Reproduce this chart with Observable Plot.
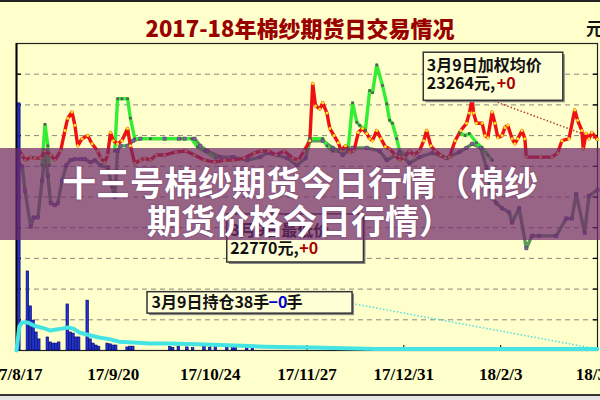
<!DOCTYPE html>
<html lang="zh">
<head>
<meta charset="utf-8">
<script src="https://cdn.jsdelivr.net/npm/d3@7"></script>
<script src="https://cdn.jsdelivr.net/npm/@observablehq/plot@0.6"></script>
<style>
html,body{margin:0;padding:0;background:#fff;}
#wrap{position:relative;width:600px;height:400px;overflow:hidden;background:#FFFFCC;font-family:"Noto Sans CJK SC","Noto Sans",sans-serif;}
#wrap svg.layer{position:absolute;left:0;top:0;}
#topline{position:absolute;left:0;top:0;width:600px;height:2px;background:#222;}
#title{position:absolute;left:0;top:13px;width:600px;text-align:center;font-size:22px;font-weight:900;color:#990000;line-height:28px;}
#unit{position:absolute;left:586px;top:15px;font-size:17px;font-weight:bold;color:#111;}
#bottomline{position:absolute;left:0;top:394px;width:600px;height:6px;background:#e4e4e4;border-top:2px solid #333;}
#banner{position:absolute;left:0;top:148px;width:600px;height:92px;box-sizing:border-box;padding-top:15px;background:rgba(112,42,108,0.72);color:#fff;text-align:center;font-size:34px;font-weight:bold;line-height:38px;text-shadow:0 0 2px rgba(60,0,60,.5);}
</style>
</head>
<body>
<div id="wrap">
  <div id="topline"></div>
  <div id="title">2017-18年棉纱期货日交易情况</div>
  <div id="unit">元</div>
</div>
<script>
// ---------- data (day offset from 2017-08-17, value) ----------
const avgSeries = [[1,23150],[2,23110],[3,23060],[5,23090],[6.5,23080],[8.5,23080],[10,23150],[12,23110],[13.5,23060],[15.5,23150],[17,23350],[18,23470],[19.5,23530],[20.5,23400],[21.5,23200],[23,23270],[25,23300],[26.5,23220],[28.5,23150],[29.5,23080],[31,23040],[32,23110],[33,23330],[34,23250],[35.5,23220],[37,23250],[39,23370],[40,23200],[41.5,23030],[43.5,23060],[45,23080],[47,23060],[49,23110],[52,23110],[56,23140],[59.5,23150],[62.5,23110],[66,23060],[69.5,23040],[73,23060],[76,23060],[80,23080],[83.5,23130],[86,23150],[88.5,23150],[91,23110],[94,23150],[97,23080],[99,23060],[101,23150],[103,23250],[104,23810],[105,23590],[106.5,23560],[107.5,23620],[109,23520],[110,23370],[111.5,23300],[113,23230],[114,23150],[115.5,23200],[117,23140],[118.5,23150],[120,23330],[121.5,23370],[123,23320],[124,23270],[125,23250],[126.5,23350],[128,23270],[129.5,23190],[131,23170],[133,23110],[134.5,23060],[136,23090],[138,23150],[139.5,23110],[141.5,23150],[143,23250],[144,23350],[145.5,23200],[147,23150],[149,23110],[150.5,23080],[152,23090],[154,23250],[156,23350],[158,23420],[159,23520],[160,23660],[160.5,23520],[161.5,23420],[163.5,23420],[164.5,23300],[165.5,23280],[167,23530],[168,23420],[169,23280],[170.5,23300],[171.5,23380],[172.5,23400],[174,23270],[175,23220],[176,23270],[177.5,23350],[178.5,23270],[179,23090],[184,23090],[188,23090],[190,23130],[191.5,23250],[194,23270],[196,23550],[197,23450],[198.5,23350],[199,23170],[200,23320],[201,23270],[202,23330],[204,23264]];

const highSeries = [[9,23010],[10,23410],[11,23200],[11.5,23010],[11.6,null],
  [34.5,23150],[35.5,23660],[37,23660],[39,23660],[40,23470],[41.5,23270],[47,23270],[52,23270],[57.5,23270],[61.5,23270],[63.5,23190],[66,23150],[70,23080],[70.1,null],
  [101.5,23150],[103,23270],[107.5,23270],[109,23200],[111,23150],[113.5,23150],[116.5,23180],[118,23620],[119.5,23430],[120.5,23400],[122.5,23350],[124,23740],[125,23720],[126.5,23990],[128.5,23790],[130,23610],[131,23450],[132,23420],[133.5,23270],[134.5,23150],[137,23110],[137.1,null],
  [155.5,23330],[157.5,23300],[159,23320],[161.5,23230],[163.5,23180],[165.5,23110],[167,23060]];

const lowSeries = [[1,23020],[2,23000],[3,22760],[5,22410],[6,22500],[7.5,22500],[9,22860],[10,23150],[11,22910],[12,22640],[13.5,22620],[14.5,22640],[16,22860],[17.5,23010],[19,23060],[20.5,23070],[22.5,23070],[24,23070],[26,23040],[27.5,23060],[29.5,23010],[32,22990],[33.5,22810],[34.5,22700],[35.5,23150],[36.5,23200],[39,23200],[41,23250],[43.5,23270],[52,23270],[57,23270],[59,23270],[62.5,23270],[64.5,23200],[67,23150],[71.5,23090],[76,23090],[81,23060],[85.5,23090],[88,23130],[91.5,23110],[95,23080],[98.5,23010],[101.5,23080],[103,23250],[107.5,23250],[111,23180],[113.5,23150],[114.5,23110],[118,23180],[123,23180],[127.5,23150],[130,23060],[134.5,23130],[138,23030],[141.5,23090],[146,23130],[151,23080],[155.5,23140],[158,23180],[160,23220],[163,23180],[165,22990],[167,22690],[168.5,22640],[170.5,22590],[173,22550],[174,22450],[176.5,22590],[179,22200],[181,22320],[183.5,22320],[189.5,22320],[193,22490],[195,22490],[196.5,22730],[199.5,22350],[201,22710],[204,22770]];

const volumeSeries = [[1,6440],[4,2060],[5,1150],[6,780],[7,470],[8,290],[11,340],[12,210],[13,180],[14,180],[15,210],[18,1200],[19,470],[20,440],[21,340],[22,340],[25,1300],[26,290],[27,180],[28,130],[29,100],[32,180],[33,160],[34,130],[35,130],[39,80],[40,100],[41,100],[54,90],[55,70],[57,100],[60,80],[62,60],[66,90],[68,70],[70,100],[74,80],[76,60],[77,90],[81,70],[83,60]];

const openInterestSeries = [[0,0],[1,625],[2,730],[4,730],[6,650],[10,570],[12,520],[14,550],[16,570],[18,600],[20,570],[22,470],[26,390],[29,340],[33,290],[36,230],[41,210],[47,180],[53,180],[64,160],[87,100],[104,80],[126,40],[160,40],[204,38]];

const tickDays = [0, 34, 68, 102, 136, 170, 204];
const tickLabels = ["17/8/17", "17/9/20", "17/10/24", "17/11/27", "17/12/31", "18/2/3", "18/3/9"];
const priceGrid = [21500, 21800, 22100, 22400, 22700, 23000, 23300, 23600, 23900];

const lastAvg = 23264, lastLow = 22770, lastOI = 38;

// ---------- helpers ----------
const START = Date.UTC(2017, 7, 17);
const toDate = d => new Date(START + d * 864e5);
const rows = s => s.map(([d, v]) => ({date: toDate(d), v}));
const avg = rows(avgSeries), high = rows(highSeries), low = rows(lowSeries);
const vol = volumeSeries.map(([d, v]) => ({x1: toDate(d - 0.45), x2: toDate(d + 0.45), v}));
const oi = rows(openInterestSeries);
const tickDates = tickDays.map(toDate);
const labelOf = d => tickLabels[tickDates.findIndex(t => +t === +d)];

const FONT = "'Noto Sans CJK SC', 'Noto Sans', sans-serif";
const base = {
  width: 600, height: 400,
  marginLeft: 16, marginRight: 3, marginTop: 43, marginBottom: 50,
  style: {background: "transparent", overflow: "visible", fontFamily: FONT}
};
const xDom = [toDate(0), toDate(204)];
const priceDom = [21200, 24200];

// ---------- price layer ----------
const pricePlot = Plot.plot({
  ...base,
  x: {type: "utc", domain: xDom, label: null},
  y: {domain: priceDom, label: null},
  marks: [
    Plot.gridY(priceGrid, {stroke: "#7a7a7a", strokeOpacity: 0.9, strokeDasharray: "5,4"}),
    Plot.frame({stroke: "#222", strokeWidth: 1.2}),
    Plot.ruleX([xDom[0]], {stroke: "#000", strokeWidth: 2}),
    Plot.axisY(priceGrid, {anchor: "left", tickSize: 5, dx: 5, tickFormat: () => "", label: null, strokeWidth: 1.3}),
    Plot.axisY(priceGrid, {anchor: "right", tickSize: 5, dx: -5, tickFormat: () => "", label: null, strokeWidth: 1.3}),
    Plot.axisX(tickDates, {anchor: "bottom", tickSize: 5, dy: -5, tickFormat: () => "", label: null}),
    Plot.axisX(tickDates, {anchor: "bottom", tickSize: 0, tickPadding: 17, tickFormat: labelOf, label: null,
      fontSize: 17, fontWeight: "bold", fontFamily: "'Liberation Serif', serif", fill: "#000"}),
    // dotted pointer from the price note to the last weighted-average value
    Plot.link([0], {x1: () => toDate(165.4), y1: () => 23660, x2: () => toDate(204), y2: () => lastAvg,
      stroke: "#b04040", strokeWidth: 1.5, strokeDasharray: "1.5,2"}),
    Plot.line(low, {x: "date", y: "v", stroke: "#5a9a5a", strokeWidth: 3.4}),
    Plot.line(high, {x: "date", y: "v", stroke: "#33ee33", strokeWidth: 3.4}),
    Plot.line(avg, {x: "date", y: "v", stroke: "#ee1111", strokeWidth: 3.4}),
    Plot.dot(high.filter(d => d.v != null), {x: "date", y: "v", symbol: "square", r: 1.5, fill: "#5a5a5a"}),
    Plot.dot(low, {x: "date", y: "v", symbol: "square", r: 1.8, fill: "#8a66b0", stroke: "#3a2a50", strokeWidth: 0.5}),
    Plot.dot(avg, {x: "date", y: "v", r: 1.5, fill: "#ffe21a"})
  ]
});
pricePlot.classList.add("layer");

// ---------- volume / open-interest layer ----------
const volPlot = Plot.plot({
  ...base,
  x: {type: "utc", domain: xDom, axis: null},
  y: {domain: [0, 8000], axis: null},
  marks: [
    Plot.rect(vol, {x1: "x1", x2: "x2", y1: 0, y2: "v", fill: "#2233cc", stroke: "#000066", strokeWidth: 0.6}),
    Plot.link([0], {x1: () => toDate(117.8), y1: () => 1225, x2: () => toDate(204), y2: () => lastOI,
      stroke: "#55dddd", strokeWidth: 1.5, strokeDasharray: "1.5,2"}),
    Plot.line(oi, {x: "date", y: "v", stroke: "#44e4e4", strokeWidth: 4, strokeLinejoin: "round"})
  ]
});
volPlot.classList.add("layer");

// ---------- note boxes layer ----------
const note = (str, d, p, dx, dy, color = "#111") =>
  Plot.text([str], {x: () => toDate(d), y: () => p, text: s => s, dx, dy, fill: color,
    fontSize: 16, fontWeight: "bold", textAnchor: "start", lineAnchor: "middle"});
const boxes = [
  {x1: toDate(143), x2: toDate(192), y1: 24110, y2: 23640},
  {x1: toDate(74), x2: toDate(122), y1: 22530, y2: 22060},
  {x1: toDate(46), x2: toDate(118), y1: 21770, y2: 21560}
];
const notePlot = Plot.plot({
  ...base,
  x: {type: "utc", domain: xDom, axis: null},
  y: {domain: priceDom, axis: null},
  marks: [
    Plot.rect(boxes, {x1: "x1", x2: "x2", y1: "y1", y2: "y2", fill: "#8a8a8a", dx: 2, dy: 2}),
    Plot.rect(boxes, {x1: "x1", x2: "x2", y1: "y1", y2: "y2", fill: "#ffffd6", stroke: "#333", strokeWidth: 1.5}),
    note("3月9日加权均价", 143, 24110, 3, 13),
    note(`${lastAvg}元,`, 143, 24110, 3, 31),
    note("+0", 143, 24110, 73, 31, "#aa0000"),
    note("3月9日最低价", 74, 22530, 3, 16),
    note(`${lastLow}元,`, 74, 22530, 3, 34),
    note("+0", 74, 22530, 72, 34, "#aa0000"),
    note(`3月9日持仓${lastOI}手`, 46, 21770, 4, 11),
    note("−0", 46, 21770, 121, 11, "#0000cc"),
    note("手", 46, 21770, 139, 11)
  ]
});
notePlot.classList.add("layer");

const wrap = document.getElementById("wrap");
wrap.appendChild(pricePlot);
wrap.appendChild(volPlot);
wrap.appendChild(notePlot);

const bottom = document.createElement("div");
bottom.id = "bottomline";
wrap.appendChild(bottom);

const banner = document.createElement("div");
banner.id = "banner";
banner.innerHTML = "十三号棉纱期货今日行情（棉纱<br>期货价格今日行情）";
wrap.appendChild(banner);
</script>
</body>
</html>
